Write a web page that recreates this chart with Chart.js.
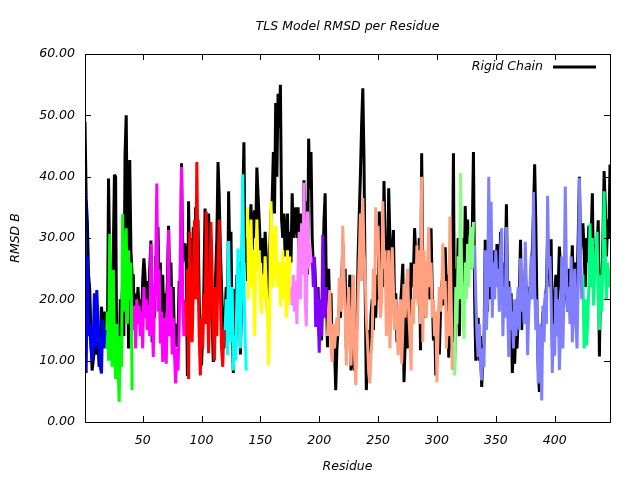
<!DOCTYPE html>
<html>
<head>
<meta charset="utf-8">
<script src="https://cdn.jsdelivr.net/npm/chart.js@4/dist/chart.umd.min.js"></script>
<style>
  html, body { margin: 0; padding: 0; background: #fff; }
  #rmsdChart { display: block; }
</style>
</head>
<body>
<canvas id="rmsdChart" width="640" height="480"></canvas>
<script>
// data, residue 1..447

const xTicks = [50, 100, 150, 200, 250, 300, 350, 400];
const yTicks = [0, 10, 20, 30, 40, 50, 60];

// black line, rigid chain, one value per residue starting at residue 1
const rigidChain = [
  49, 36.5, 32.6, 24, 21.8, 15, 8.4, 10, 12, 15, 11, 13, 9, 12, 18.8, 16, 14, 18,
  14, 12, 39.7, 26, 24, 10, 27, 40.3, 40, 8, 12, 9, 20, 18, 23, 14, 43.5, 50, 30, 12, 42.7, 28, 24,
  24, 15, 21, 17, 22, 18, 20, 16, 23, 26.7, 24, 17, 23, 19, 25, 29.6, 13, 22, 17, 27,
  24, 31.8, 20, 26, 14, 24, 16, 21, 18, 23, 32, 22, 26, 17, 22, 13, 16, 12.2, 14, 23, 20, 42.2, 26, 29,
  29, 26, 7.5, 36, 22, 30, 17, 31.8, 24, 35, 27, 33, 20, 12, 9.2, 15, 22, 34.8, 26, 20,
  34, 28, 30, 17, 9.8, 13, 24, 30, 42.4, 37, 28, 22, 16, 12, 18,
  22, 12, 37.6, 27, 31, 15, 8, 21.7, 12, 24, 17, 26, 11, 20, 35, 45.6, 26, 30, 23,
  29, 31, 35.5, 28, 32, 34.5, 30, 41.5, 37, 33, 28, 26, 30, 24, 31, 27, 18, 15, 28, 34,
  36, 44, 34, 52, 40, 53.5, 48, 55, 33, 30, 34, 27, 30, 34, 24, 31, 26,
  37.3, 30, 33, 35, 30, 35, 27, 34, 30, 26, 39.4, 30, 36, 24, 46.2, 38, 44,
  30, 25, 25.8, 22, 20, 22, 14, 18, 13.3, 24, 32.6, 37.3, 22, 12.2,
  25, 18, 21, 11, 14, 12, 5.2, 12, 15, 19, 17, 22, 29, 22, 25, 12, 20, 17, 24, 8.4,
  20, 10, 8.4, 12, 16, 27, 34, 40.5, 48.5, 54.4, 43, 22, 5.2, 12, 15, 11, 17.5, 20, 15, 22,
  17, 24, 20, 34.3, 24, 26, 22, 39.3, 30, 24, 20, 38.1, 30, 24, 27, 31.3, 19, 21, 13, 18,
  14, 19, 22, 25.8, 6.5, 13, 19, 12, 23, 15, 26, 22, 24, 31.6, 27, 26, 22, 30, 11.7, 43.8,
  24, 26, 17, 20, 24, 22, 20, 31.6, 21, 13.3, 17, 7.6, 12, 15.5, 11, 18, 22, 24, 19, 28.5,
  22, 24, 10.5, 15, 12, 20, 43.8,
  9, 25, 20, 30, 14, 28, 24, 30, 20, 35.2, 26, 33, 28, 30, 25, 31, 44, 20,
  10, 12, 17, 10, 14, 5.7, 10, 13, 29.7, 22, 18, 33, 20, 30, 22, 28, 25, 24, 29, 26,
  22, 31, 25, 20, 26, 24, 35.5, 21, 23, 18, 21, 8, 12, 9.5, 15, 12, 17, 21, 29.7, 15,
  22, 18, 25, 20, 16, 22, 20, 25, 28, 34, 42, 32, 18, 9, 4.9, 12, 14, 18, 16, 20,
  22, 30, 28, 22, 29.8, 12, 20, 21, 24, 18, 22, 28.6, 25, 20, 24, 22, 20, 21, 18, 25,
  21, 24, 28.8, 20, 25, 26, 22, 30, 40, 28, 31, 32.4,
  28, 22, 30, 26, 32, 25, 30, 37.3, 23, 29, 25, 28, 32.9, 10.7, 24, 23, 30, 40.9, 35, 27, 33, 30, 42
];

// TLS groups: first residue of each group, then the values per group
const tlsStarts = [1, 19, 42, 86, 120, 139, 176, 194, 207, 314, 332, 424];
const tlsColors = ['#0000ff', '#00ff00', '#ff00ff', '#ff0000', '#00ffff', '#ffff00',
                   '#ff80ff', '#8000ff', '#ffa080', '#80ff80', '#8080ff', '#00ff80'];

const tls1 = [38, 8, 27, 14, 16, 12, 10, 13, 21, 12, 21.5, 17, 13, 9, 7.9, 16.7, 12, 15];
const tls2 = [12, 18, 10, 30.7, 20, 9, 24.8, 13, 7, 16, 10, 3.3, 14, 9, 33.9, 18, 22, 31.6, 16, 28, 20, 26, 5.2];
const tls3 = [15, 19, 12, 20, 16, 19, 14, 18, 12, 22, 17, 20, 15, 19, 14, 29, 18, 10.6, 20, 25,
              38.9, 18, 25, 12.8, 18, 9.8, 17, 12, 9.5, 18, 31.3, 14, 22, 11, 17, 11, 6.3, 12, 8.4, 15,
              28, 41.6, 20, 14];
const tls4 = [20, 14, 25, 7, 31, 18, 13, 22, 32.9, 20, 42.4, 25, 14, 7.6, 17, 12, 21, 16, 34.3, 22,
              11.2, 19, 32.6, 24, 15, 10, 22, 14, 26, 33, 21, 12, 9, 15];
const tls5 = [15, 20, 10.9, 29.5, 18, 13, 22, 8.4, 14, 10, 20, 28.3, 19, 12, 24, 40.4, 22, 14, 8.4];
const tls6 = [35, 20, 26, 33, 22, 28, 14, 24, 33, 25, 28, 20, 17.7, 24, 20, 27, 22, 17, 9.2, 20,
              36, 27, 22, 30, 32, 24, 22, 26, 18.8, 23, 28, 20, 26, 17, 28, 19, 27];
const tls7 = [22, 19, 24, 18, 23, 16, 25, 31, 20, 32.4, 24, 39, 20, 15.6, 34.3, 25, 29, 26];
const tls8 = [27, 22, 26.9, 15.5, 22, 18, 11.3, 20, 14, 30.5, 19, 17, 22];
const tls9 = [14, 19, 21.5, 12, 9.8, 16, 12, 15, 17, 14, 23.5, 18, 20, 32, 24, 18, 9.2, 16, 22, 13,
              9.2, 18, 24, 11, 6, 13, 20.5, 27, 34, 23, 36.5, 28, 24, 17, 13, 8, 6.3, 11, 14, 25,
              19, 35, 27, 32, 22, 17, 20, 36, 25, 28, 14, 21, 28, 12, 18, 28.5, 22, 15, 20, 17,
              10.9, 18, 20, 9.5, 15, 22.5, 17, 22, 25, 18, 14, 8.4, 20, 16, 25.8, 20, 28.8, 19, 28, 16,
              40, 13, 28, 21, 17, 25, 31.8, 22, 26, 17, 20, 14, 18, 6.5, 15, 22, 18, 21, 29.1, 20,
              23, 12, 18, 14, 33.5, 21, 8.5];
const tls10 = [13, 7.6, 22, 16, 27, 20, 40.6, 23, 17, 13.5, 26, 20, 29, 22, 30, 31.8, 25, 32.6];
const tls11 = [28.8, 20, 14, 10.6, 16, 9, 6.8, 12, 9, 28, 15, 20, 40, 22, 35.9, 17, 26, 20, 28, 22,
               25, 18, 28, 31.6, 14, 22, 17, 31.8, 19, 10.6, 22, 15, 18, 12, 20, 14, 19, 22, 15, 26.7,
               18, 23, 16, 29.4, 22, 10.9, 18, 22, 27, 20, 37.5, 22, 15, 20, 6.3, 16, 12, 3.5, 19, 13,
               21, 16, 36.9, 25, 27, 20, 8, 16, 10.8, 22, 14, 20, 8.5, 15, 27, 12, 22, 38.4, 24, 18,
               22, 16, 27, 13, 20, 25, 16, 12, 23, 39.8, 27, 20];
const tls12 = [24, 12, 20, 12.5, 16, 22, 32.4, 22, 30, 19, 24, 28, 31, 20, 15, 24, 18, 26, 37.6, 27, 20, 26, 22, 25];

const tlsGroups = [tls1, tls2, tls3, tls4, tls5, tls6, tls7, tls8, tls9, tls10, tls11, tls12];

const chartTitle = 'TLS Model RMSD per Residue';

function toPoints(start, values) {
  return values.map((v, i) => ({ x: start + i, y: v }));
}

const fontItalic = { family: 'DejaVu Sans', size: 12.5, style: 'italic', weight: 'normal' };
const cssFont = 'italic 12.5px "DejaVu Sans"';

const datasets = [{
  label: 'Rigid Chain',
  data: toPoints(1, rigidChain),
  borderColor: '#000000',
  borderWidth: 3,
  borderJoinStyle: 'bevel',
  pointRadius: 0,
  tension: 0,
  order: 1
}];
tlsGroups.forEach((vals, i) => {
  datasets.push({
    label: 'TLS group ' + (i + 1),
    data: toPoints(tlsStarts[i], vals),
    borderColor: tlsColors[i],
    borderWidth: 3,
    borderJoinStyle: 'bevel',
    pointRadius: 0,
    tension: 0,
    order: 0
  });
});

// gnuplot look: full frame, ticks pointing in, key inside top right, title over plot centre
const framePlugin = {
  id: 'frame',
  afterDraw(chart) {
    const c = chart.ctx;
    const a = chart.chartArea;
    const xs = chart.scales.x, ys = chart.scales.y;
    c.save();
    c.strokeStyle = '#000';
    c.lineWidth = 1;
    c.strokeRect(Math.round(a.left) + 0.5, Math.round(a.top) + 0.5,
                 Math.round(a.right - a.left), Math.round(a.bottom - a.top));
    c.beginPath();
    xTicks.forEach(v => {
      const px = Math.round(xs.getPixelForValue(v)) + 0.5;
      c.moveTo(px, a.bottom); c.lineTo(px, a.bottom - 6);
      c.moveTo(px, a.top); c.lineTo(px, a.top + 6);
    });
    yTicks.forEach(v => {
      const py = Math.round(ys.getPixelForValue(v)) + 0.5;
      c.moveTo(a.left, py); c.lineTo(a.left + 6, py);
      c.moveTo(a.right, py); c.lineTo(a.right - 6, py);
    });
    c.stroke();

    c.fillStyle = '#000';
    c.font = cssFont;
    c.textBaseline = 'middle';

    // title
    c.textAlign = 'center';
    c.fillText(chartTitle, (a.left + a.right) / 2, 27);

    // key
    const ky = 67;
    c.textAlign = 'right';
    c.fillText(chart.data.datasets[0].label, 543, ky);
    c.lineWidth = 3;
    c.beginPath();
    c.moveTo(553, ky); c.lineTo(596, ky);
    c.stroke();
    c.restore();
  }
};

const ctx = document.getElementById('rmsdChart').getContext('2d');
const rmsdChart = new Chart(ctx, {
  type: 'line',
  data: { datasets: datasets },
  options: {
    responsive: false,
    animation: false,
    devicePixelRatio: 1,
    layout: { padding: { top: 54, right: 30, bottom: 0, left: 0 } },
    plugins: {
      legend: { display: false },
      tooltip: { enabled: false },
      title: { display: false }
    },
    scales: {
      x: {
        type: 'linear',
        min: 1,
        max: 447,
        grid: { display: false, drawTicks: false },
        border: { display: false },
        afterBuildTicks: s => { s.ticks = xTicks.map(v => ({ value: v })); },
        afterFit: s => { s.height = 58; },
        ticks: { color: '#000', font: fontItalic, padding: 11, maxRotation: 0, autoSkip: false },
        title: { display: true, text: 'Residue', color: '#000', font: fontItalic, padding: { top: 0, bottom: 6 } }
      },
      y: {
        min: 0,
        max: 60,
        grid: { display: false, drawTicks: false },
        border: { display: false },
        afterBuildTicks: s => { s.ticks = yTicks.map(v => ({ value: v })); },
        afterFit: s => { s.width = 85; },
        ticks: { color: '#000', font: fontItalic, padding: 10, callback: v => v.toFixed(2) },
        title: { display: true, text: 'RMSD B', color: '#000', font: fontItalic, padding: { top: 8, bottom: 0 } }
      }
    }
  },
  plugins: [framePlugin]
});
</script>
</body>
</html>
